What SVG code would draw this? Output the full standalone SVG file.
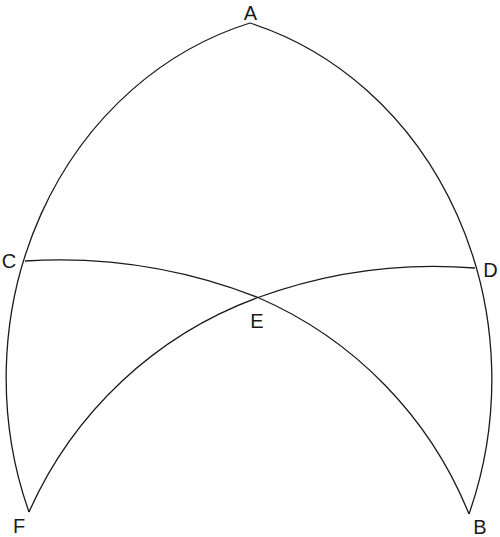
<svg xmlns="http://www.w3.org/2000/svg" width="500" height="537" viewBox="0 0 500 537">
<style>
.arc{fill:none;stroke:#1a1a1a;stroke-width:1.3;stroke-linejoin:miter}
.lbl{font-family:"Liberation Sans",Arial,sans-serif;font-size:20px;fill:#1a1a1a;text-anchor:middle}
</style>
<rect width="500" height="537" fill="#ffffff"/>
<g id="connectors">
<path id="arc-AF" class="arc" d="M 250 23 A 335 369 0 0 0 29 512"/>
<path id="arc-AB" class="arc" d="M 250 23 A 335 371 0 0 1 469 514"/>
<path id="arc-CB" class="arc" d="M 25 261 A 546 546 0 0 1 258 297.5 A 398 398 0 0 1 469 514"/>
<path id="arc-DF" class="arc" d="M 475 268 A 511 511 0 0 0 258 297.5 A 401 401 0 0 0 29 512"/>
</g>
<g id="node-A"><text class="lbl" x="250.5" y="20">A</text></g>
<g id="node-C"><text class="lbl" x="9" y="268">C</text></g>
<g id="node-D"><text class="lbl" x="490.5" y="277">D</text></g>
<g id="node-E"><text class="lbl" x="257" y="328">E</text></g>
<g id="node-F"><text class="lbl" x="19" y="532.5">F</text></g>
<g id="node-B"><text class="lbl" x="480" y="533.5">B</text></g>
</svg>
